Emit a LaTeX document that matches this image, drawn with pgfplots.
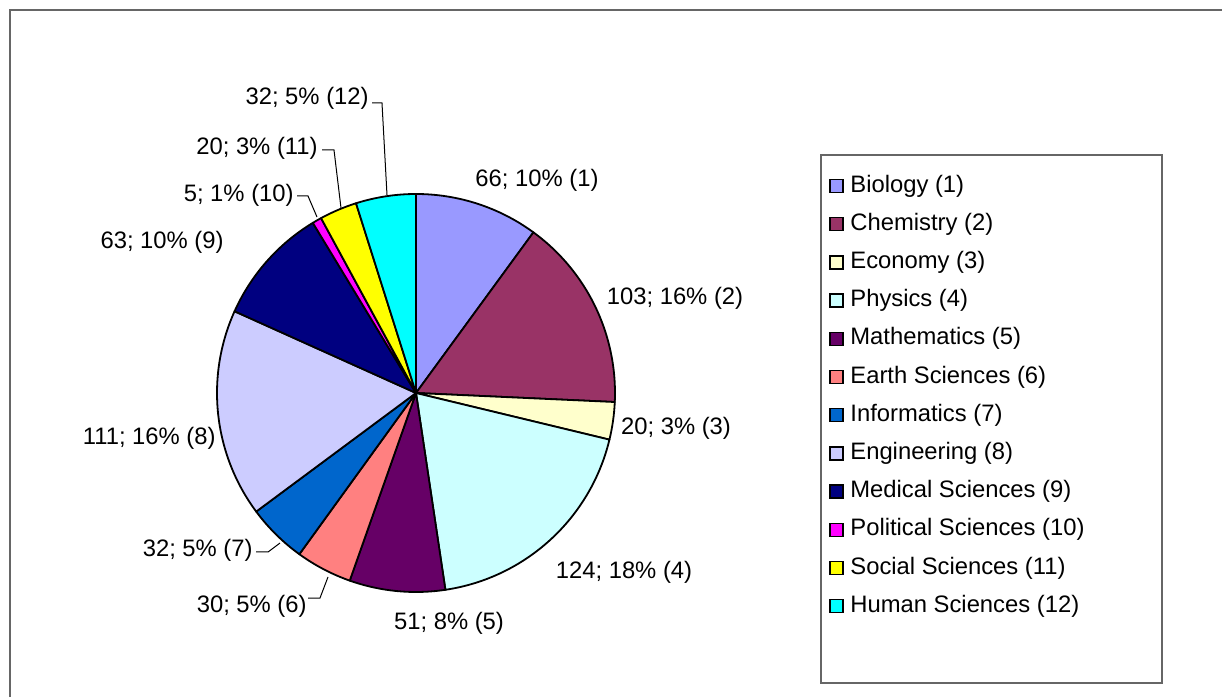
\documentclass[border=0pt]{standalone}
\usepackage{pgfplots}
\pgfplotsset{compat=1.18}
\usepackage{fontspec}
\setmainfont{Liberation Sans}
\definecolor{c1}{HTML}{9999FF}
\definecolor{c2}{HTML}{993366}
\definecolor{c3}{HTML}{FFFFCC}
\definecolor{c4}{HTML}{CCFFFF}
\definecolor{c5}{HTML}{660066}
\definecolor{c6}{HTML}{FF8080}
\definecolor{c7}{HTML}{0066CC}
\definecolor{c8}{HTML}{CCCCFF}
\definecolor{c9}{HTML}{000080}
\definecolor{c10}{HTML}{FF00FF}
\definecolor{c11}{HTML}{FFFF00}
\definecolor{c12}{HTML}{00FFFF}
% values of the slices, clockwise from 12 o'clock
\def\vals{66,103,20,124,51,30,32,111,63,5,20,32}
\gdef\total{0}
\foreach \v in \vals {\pgfmathsetmacro\t{\total+\v}\global\let\total\t}
\gdef\acc{0}
\foreach \v [count=\i] in \vals {%
  \pgfmathsetmacro\fa{\acc/\total}%
  \pgfmathsetmacro\fb{(\acc+\v)/\total}%
  \pgfmathsetmacro\a{90-360*\fa}%
  \pgfmathsetmacro\b{90-360*\fb}%
  \expandafter\xdef\csname sa\i\endcsname{\a}%
  \expandafter\xdef\csname sb\i\endcsname{\b}%
  \pgfmathsetmacro\t{\acc+\v}\global\let\acc\t
}
\begin{document}%
\begin{tikzpicture}
\begin{axis}[hide axis, scale only axis, width=611pt, height=348.5pt,
  xmin=0, xmax=1222, ymin=0, ymax=697, clip=false]
% outer frame
\draw[gray!80!black, line width=1pt] (axis cs:9.5,0) -- (axis cs:9.5,686.5) -- (axis cs:1222,686.5);
% pie
\pgfplotsinvokeforeach{1,...,12}{
  \filldraw[fill=c#1, draw=black, line width=0.9pt, line join=round]
    (axis cs:416,304) -- +(\csname sa#1\endcsname:99.5pt)
    arc[start angle=\csname sa#1\endcsname, end angle=\csname sb#1\endcsname, radius=99.5pt] -- cycle;
}
% labels
\tikzset{lab/.style={font=\fontsize{11.9}{13}\selectfont, inner sep=0pt}}
\node[lab] at (axis cs:537,517) {66; 10\% (1)};
\node[lab] at (axis cs:675,399) {103; 16\% (2)};
\node[lab] at (axis cs:676,269) {20; 3\% (3)};
\node[lab] at (axis cs:624,125) {124; 18\% (4)};
\node[lab] at (axis cs:449,74) {51; 8\% (5)};
\node[lab, anchor=east] at (axis cs:307,91) {30; 5\% (6)};
\node[lab, anchor=east] at (axis cs:253,147) {32; 5\% (7)};
\node[lab, anchor=east] at (axis cs:216,259) {111; 16\% (8)};
\node[lab, anchor=east] at (axis cs:224,455) {63; 10\% (9)};
\node[lab, anchor=east] at (axis cs:294,502) {5; 1\% (10)};
\node[lab, anchor=east] at (axis cs:318,549) {20; 3\% (11)};
\node[lab, anchor=east] at (axis cs:369,599) {32; 5\% (12)};
% leader lines
\draw[line width=0.5pt] (axis cs:308,99) -- (axis cs:320,99) -- (axis cs:328,120);
\draw[line width=0.5pt] (axis cs:256,145) -- (axis cs:268,145) -- (axis cs:280,154);
\draw[line width=0.5pt] (axis cs:297,501) -- (axis cs:308,501) -- (axis cs:317,480);
\draw[line width=0.5pt] (axis cs:322,547) -- (axis cs:334,547) -- (axis cs:341,489);
\draw[line width=0.5pt] (axis cs:372,594) -- (axis cs:382,594) -- (axis cs:387,502);
% legend
\draw[gray!80!black, line width=1pt] (axis cs:821,542) rectangle (axis cs:1162,14);
\pgfplotsinvokeforeach{1,...,12}{
  \filldraw[fill=c#1, draw=black, line width=0.7pt]
    (axis cs:830,{697-186-38.2*(#1-1)-6.5}) rectangle (axis cs:843,{697-186-38.2*(#1-1)+6.5});
}
\foreach \n [count=\k from 0] in {Biology (1),Chemistry (2),Economy (3),Physics (4),Mathematics (5),Earth Sciences (6),Informatics (7),Engineering (8),Medical Sciences (9),Political Sciences (10),Social Sciences (11),Human Sciences (12)}{
  \edef\temp{\noexpand\node[lab, anchor=west] at (axis cs:850,{697-186-38.2*\k}) {\n};}\temp
}
\end{axis}
\pgfresetboundingbox
\path (0,0) rectangle (611pt,348.5pt);
\end{tikzpicture}%
\end{document}
